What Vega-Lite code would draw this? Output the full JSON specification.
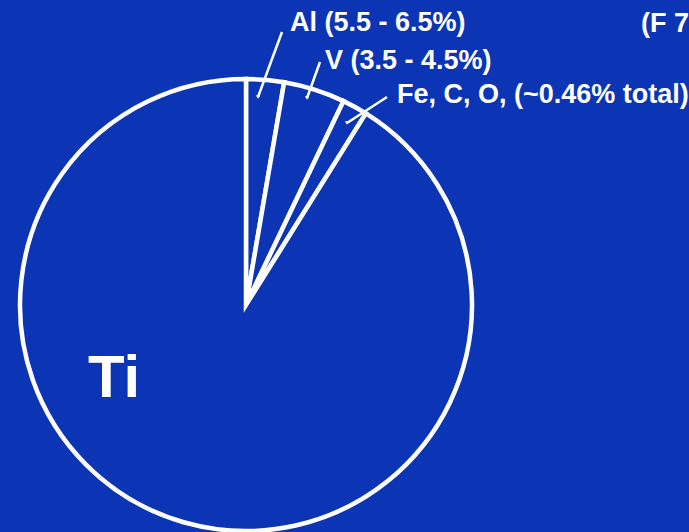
{
  "$schema": "https://vega.github.io/schema/vega-lite/v6.json",
  "width": 689,
  "height": 532,
  "autosize": {"type": "none"},
  "padding": 0,
  "background": "#0b35b4",
  "config": {"view": {"stroke": null}},
  "datasets": {
    "slices": [
      {"element": "Al", "share": 2.7, "seq": 1},
      {"element": "V", "share": 4.4, "seq": 2},
      {"element": "Fe, C, O", "share": 1.8, "seq": 3},
      {"element": "Ti", "share": 91.1, "seq": 4}
    ],
    "leaders": [
      {"element": "Al", "ax": 12, "ay": 208, "bx": 36, "by": 273},
      {"element": "V", "ax": 61, "ay": 207, "bx": 74, "by": 243},
      {"element": "Fe, C, O", "ax": 101, "ay": 182, "bx": 141, "by": 208}
    ],
    "labels": [
      {"text": "Al (5.5 - 6.5%)", "tx": 44, "ty": 274},
      {"text": "V (3.5 - 4.5%)", "tx": 79, "ty": 236},
      {"text": "Fe, C, O, (~0.46% total)", "tx": 151, "ty": 202},
      {"text": "(F 7", "tx": 395, "ty": 273}
    ],
    "big": [
      {"text": "Ti", "tx": -158, "ty": -92}
    ]
  },
  "layer": [
    {
      "data": {"name": "slices"},
      "mark": {"type": "arc", "outerRadius": 226, "fill": "#0b35b4", "stroke": "white", "strokeWidth": 4.5},
      "encoding": {
        "theta": {"field": "share", "type": "quantitative", "stack": true},
        "order": {"field": "seq", "type": "quantitative"},
        "x": {"datum": 0, "type": "quantitative", "scale": {"domain": [-246, 443], "nice": false, "zero": false}, "axis": null},
        "y": {"datum": 0, "type": "quantitative", "scale": {"domain": [-227, 305], "nice": false, "zero": false}, "axis": null}
      }
    },
    {
      "data": {"name": "leaders"},
      "mark": {"type": "rule", "color": "white", "strokeWidth": 2.5},
      "encoding": {
        "x": {"field": "ax", "type": "quantitative", "scale": {"domain": [-246, 443], "nice": false, "zero": false}, "axis": null},
        "y": {"field": "ay", "type": "quantitative", "scale": {"domain": [-227, 305], "nice": false, "zero": false}, "axis": null},
        "x2": {"field": "bx"},
        "y2": {"field": "by"}
      }
    },
    {
      "data": {"name": "leaders"},
      "mark": {"type": "point", "filled": true, "color": "white", "opacity": 1, "size": 18, "shape": "triangle-down"},
      "encoding": {
        "x": {"field": "ax", "type": "quantitative", "scale": {"domain": [-246, 443], "nice": false, "zero": false}, "axis": null},
        "y": {"field": "ay", "type": "quantitative", "scale": {"domain": [-227, 305], "nice": false, "zero": false}, "axis": null}
      }
    },
    {
      "data": {"name": "labels"},
      "mark": {"type": "text", "align": "left", "baseline": "alphabetic", "font": "Liberation Sans", "fontWeight": "bold", "fontSize": 27, "color": "white"},
      "encoding": {
        "x": {"field": "tx", "type": "quantitative", "scale": {"domain": [-246, 443], "nice": false, "zero": false}, "axis": null},
        "y": {"field": "ty", "type": "quantitative", "scale": {"domain": [-227, 305], "nice": false, "zero": false}, "axis": null},
        "text": {"field": "text"}
      }
    },
    {
      "data": {"name": "big"},
      "mark": {"type": "text", "align": "left", "baseline": "alphabetic", "font": "Liberation Sans", "fontWeight": "bold", "fontSize": 60, "color": "white"},
      "encoding": {
        "x": {"field": "tx", "type": "quantitative", "scale": {"domain": [-246, 443], "nice": false, "zero": false}, "axis": null},
        "y": {"field": "ty", "type": "quantitative", "scale": {"domain": [-227, 305], "nice": false, "zero": false}, "axis": null},
        "text": {"field": "text"}
      }
    }
  ]
}
